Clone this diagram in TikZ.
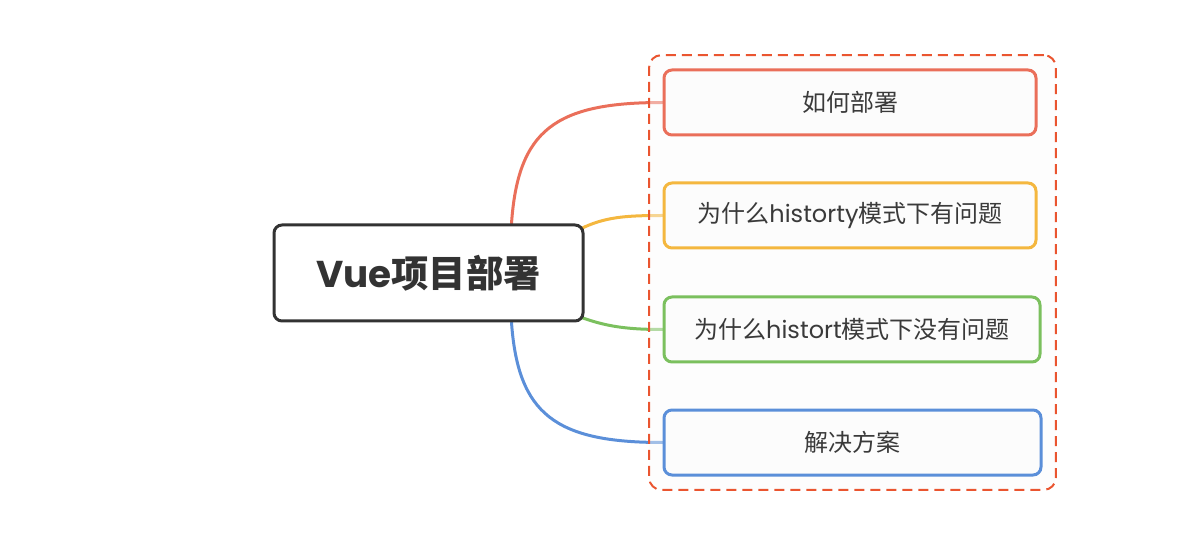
\documentclass[tikz,border=0pt]{standalone}
\usepackage{fontspec}
\setmainfont{Noto Sans CJK SC}
\newfontfamily\lat{Poppins}
\usetikzlibrary{fit}
\pgfdeclarelayer{bg}
\pgfdeclarelayer{mid}
\pgfsetlayers{bg,mid,main}
\definecolor{cred}{HTML}{EA6F5A}
\definecolor{cyel}{HTML}{F4B73F}
\definecolor{cgrn}{HTML}{7BC05E}
\definecolor{cblu}{HTML}{5B8FD9}
\definecolor{cframe}{HTML}{EA5530}
\definecolor{ctext}{HTML}{3A3A3A}
\definecolor{cdark}{HTML}{333333}
\definecolor{cbox}{HTML}{FCFCFC}
\definecolor{cfr}{HTML}{FAFAFA}
\begin{document}
\begin{tikzpicture}[x=0.75pt,y=-0.75pt,
 root/.style={draw=cdark, line width=2.25pt, rounded corners=6pt, fill=white,
   minimum width=231.75pt, minimum height=72pt,
   font=\bfseries\fontsize{28}{33}\selectfont, text=cdark, inner sep=0pt},
 topic/.style={line width=2.25pt, rounded corners=6pt, fill=cbox,
   minimum height=48.75pt, font=\fontsize{18}{22}\selectfont, text=ctext, inner sep=0pt},
 link/.style={line width=2.25pt, line cap=round},
 frame/.style={draw=cframe, line width=1.5pt, dash pattern=on 7.5pt off 4.5pt,
   rounded corners=9pt, fill=cfr, fill opacity=0.45, inner sep=10pt}
]
\useasboundingbox (0,0) rectangle (1181,559);
\node[root] (c) at (428.5,273) {{\lat Vue}项目部署};
\node[topic, draw=cred, minimum width=279pt] (b1) at (850,102.5) {如何部署};
\node[topic, draw=cyel, minimum width=279pt] (b2) at (850,215.5) {为什么{\lat historty}模式下有问题};
\node[topic, draw=cgrn, minimum width=282pt] (b3) at (852,329.5) {为什么{\lat histort}模式下没有问题};
\node[topic, draw=cblu, minimum width=282.75pt] (b4) at (852.5,442.5) {解决方案};
\begin{pgfonlayer}{mid}
\node[frame, fit=(b1)(b2)(b3)(b4)] (fr) {};
\end{pgfonlayer}
\begin{pgfonlayer}{bg}
\draw[link, cred] ([xshift=-54.75pt]c.north east) .. controls (518,130) and (555,102.5) .. (b1.west);
\draw[link, cyel] ([xshift=-3pt,yshift=-4pt]c.north east) .. controls (605,217) and (625,215.5) .. (b2.west);
\draw[link, cgrn] ([xshift=-3pt,yshift=4pt]c.south east) .. controls (605,326) and (625,329.5) .. (b3.west);
\draw[link, cblu] ([xshift=-54.75pt]c.south east) .. controls (518,414) and (555,442.5) .. (b4.west);
\end{pgfonlayer}
\end{tikzpicture}
\end{document}
